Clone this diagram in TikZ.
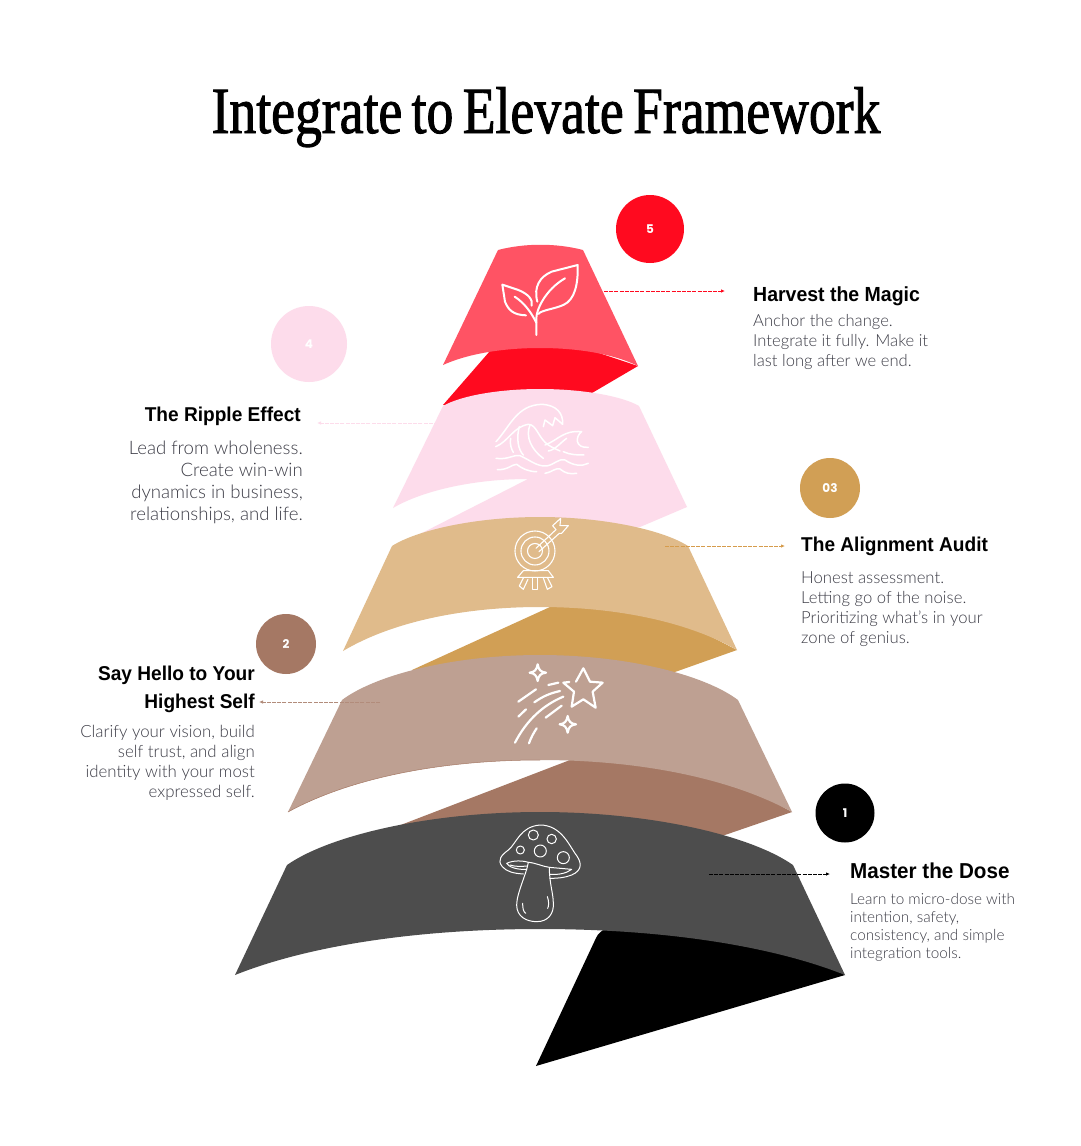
\documentclass[tikz,border=0pt]{standalone}
\usepackage{fontspec}
\usetikzlibrary{arrows.meta}
\setmainfont{Lato Light}
\newfontfamily\titlefont[FakeStretch=0.813,FakeBold=1.4,WordSpace=0.7]{Liberation Serif}
\newfontfamily\headfont[FakeStretch=0.955]{Liberation Sans}
\newfontfamily\badgefont{Poppins}
\definecolor{inkgray}{HTML}{4D4D4D}
\definecolor{textgray}{HTML}{3C3C46}
\definecolor{redback}{HTML}{FF0A1F}
\definecolor{redfront}{HTML}{FF5364}
\definecolor{pinkband}{HTML}{FDDCEB}
\definecolor{tanback}{HTML}{D19F55}
\definecolor{tanfront}{HTML}{E0BB8B}
\definecolor{brownback}{HTML}{A57864}
\definecolor{brownfront}{HTML}{BEA092}
\tikzset{
  badge/.style={circle, inner sep=0pt, minimum size=#1, text=white, font=\badgefont\bfseries\fontsize{12}{14}\selectfont},
  headleft/.style={anchor=base west, inner sep=0pt, font=\headfont\bfseries\fontsize{20}{28}\selectfont},
  headright/.style={anchor=base east, inner sep=0pt, align=right, font=\headfont\bfseries\fontsize{20}{28}\selectfont},
  bodyleft/.style={anchor=north west, inner sep=0pt, align=left, text=textgray},
  bodyright/.style={anchor=north east, inner sep=0pt, align=right, text=textgray},
  leader/.style={line width=1pt, dash pattern=on 4pt off 1.2pt, -{Latex[length=4pt,width=3.5pt]}},
  icon/.style={draw=white, line cap=round, line join=round, line width=#1},
}
\begin{document}
\begin{tikzpicture}[x=1pt, y=-1pt]
  \useasboundingbox (0,0) rectangle (1080,1146);
  \fill[white] (0,0) rectangle (1080,1146);

  \node[inner sep=0pt, anchor=base, font=\titlefont\fontsize{66}{70}\selectfont] (title) at (546,133) {Integrate to Elevate Framework};

  % bands, top first
  \fill[redback] (443,405) -- (490,351) -- (560,340) -- (638,366) -- (592,393) -- cycle;
  \fill[redfront] (498,250) .. controls (525,243) and (556,243) .. (583,250) -- (638,366)
    .. controls (614,354) and (578,348) .. (540,348) .. controls (502,348) and (467,354) .. (443,365) -- cycle;

  \fill[pinkband] (443,406) .. controls (460,396) and (498,389) .. (540,389) .. controls (582,389) and (622,396) .. (639,406)
    -- (687,507) -- (640,527) -- (418,535) -- (528,479) .. controls (470,479) and (420,492) .. (393,508) -- cycle;

  \fill[tanback] (412,670) -- (550,607) -- (640,600) -- (737,650) -- (675,672) -- cycle;
  \fill[tanfront] (392,546) .. controls (417,530) and (476,517) .. (540,517) .. controls (604,517) and (663,530) .. (688,546)
    -- (737,650) .. controls (688.5,622) and (617,607) .. (540,607) .. controls (463,607) and (391.5,622) .. (343,651) -- cycle;

  \fill[brownback] (398,826) -- (570,760) -- (680,750) -- (792,812) -- (722,836) -- cycle;
  \fill[brownfront] (342,700) .. controls (376,674.5) and (454,655) .. (540,655) .. controls (626,655) and (704,674.5) .. (738,700)
    -- (792,812) .. controls (730,778) and (639,760) .. (540,760) .. controls (441,760) and (350,778) .. (288,812) -- cycle;
  \draw[brownback, line width=0.5pt] (288,812) .. controls (350,778) and (441,760) .. (540,760);

  \fill[black] (536,1066) -- (596,938) .. controls (598,933) and (602,931) .. (610,925) -- (760,925) -- (845,975) -- cycle;
  \fill[inkgray] (287,865) .. controls (330,835) and (430,812) .. (540,812) .. controls (650,812) and (750,835) .. (793,865)
    -- (845,975) .. controls (770,945) and (660,929) .. (540,929) .. controls (420,929) and (310,945) .. (235,975) -- cycle;

  % leaders
  \coordinate (magicfrom) at (604,291);
  \coordinate (magicto) at (725,291);
  \coordinate (ripplefrom) at (438,423);
  \coordinate (rippleto) at (317,423);
  \coordinate (auditfrom) at (665,546);
  \coordinate (auditto) at (785,546);
  \coordinate (hellofrom) at (380,702);
  \coordinate (helloto) at (259,702);
  \coordinate (dosefrom) at (709,874);
  \coordinate (doseto) at (830,874);
  \draw[leader, color=redback] (magicfrom) -- (magicto);
  \draw[leader, color=pinkband] (ripplefrom) -- (rippleto);
  \draw[leader, color=tanback!90!orange] (auditfrom) -- (auditto);
  \draw[leader, color=brownback!85!white] (hellofrom) -- (helloto);
  \draw[leader, color=black] (dosefrom) -- (doseto);

  % badges
  \node[badge=68pt, fill=redback] (five) at (650,229) {5};
  \node[badge=76pt, fill=pinkband] (four) at (309,344) {4};
  \node[badge=60pt, fill=tanback] (three) at (830,488) {03};
  \node[badge=60pt, fill=brownback] (two) at (286,644) {2};
  \node[badge=59pt, fill=black] (one) at (845,813) {1};

  % texts
  \node[headleft, font=\headfont\bfseries\fontsize{20.4}{28}\selectfont] (magichead) at (753,301) {Harvest the Magic};
  \node[bodyleft, font=\fontsize{16.6}{20}\selectfont] (magicbody) at (753,314) {Anchor the change.\\Integrate it fully. Make it\\last long after we end.};

  \node[headright] (ripplehead) at (301,421) {The Ripple Effect};
  \node[bodyright, font=\fontsize{18.6}{22}\selectfont] (ripplebody) at (303,441) {Lead from wholeness.\\Create win-win\\dynamics in business,\\relationships, and life.};

  \node[headleft] (audithead) at (801,551) {The Alignment Audit};
  \node[bodyleft, font=\fontsize{16.7}{20}\selectfont] (auditbody) at (801,571) {Honest assessment.\\Letting go of the noise.\\Prioritizing what’s in your\\zone of genius.};

  \node[headright] (hellohead) at (255,708) {Say Hello to Your\\Highest Self};
  \node[bodyright, font=\fontsize{16.85}{20}\selectfont] (hellobody) at (255,725) {Clarify your vision, build\\self trust, and align\\identity with your most\\expressed self.};

  \node[headleft, font=\headfont\bfseries\fontsize{21.6}{28}\selectfont] (dosehead) at (850,878) {Master the Dose};
  \node[bodyleft, font=\fontsize{15.3}{18}\selectfont] (dosebody) at (850,893) {Learn to micro-dose with\\intention, safety,\\consistency, and simple\\integration tools.};

  % plant
  \begin{scope}[shift={(430,190)}, x=0.3333pt, y=-0.3333pt, icon=2pt]
    \draw (319,435) -- (319,385) .. controls (319,360) and (345,300) .. (405,265);
    \draw (322,335) .. controls (310,290) and (330,260) .. (365,245) -- (443,225)
      .. controls (445,280) and (435,330) .. (400,345) .. controls (370,358) and (335,360) .. (325,372);
    \draw (288,376) .. controls (250,375) and (235,360) .. (225,335) -- (217,284) -- (265,300)
      .. controls (295,312) and (310,330) .. (305,347);
    \draw (254,320) .. controls (285,340) and (305,370) .. (319,398);
  \end{scope}

  % wave
  \begin{scope}[shift={(480,395)}, x=0.3333pt, y=-0.3333pt, icon=1.5pt]
    \draw (48,140) .. controls (90,95) and (110,30) .. (185,28) .. controls (230,30) and (250,55) .. (248,88)
      -- (225,68) -- (218,92) -- (195,75) -- (190,95);
    \draw (47,155) .. controls (85,140) and (100,95) .. (145,88) .. controls (170,88) and (175,130) .. (205,150)
      .. controls (220,160) and (235,165) .. (240,168);
    \draw (92,130) .. controls (88,145) and (95,165) .. (100,172);
    \draw (118,95) .. controls (108,130) and (115,165) .. (130,180);
    \draw (150,90) .. controls (135,125) and (155,165) .. (190,190);
    \draw (195,150) .. controls (235,135) and (250,105) .. (305,110) .. controls (285,125) and (285,160) .. (325,157);
    \draw (205,168) .. controls (225,165) and (245,140) .. (260,130);
    \draw (250,170) .. controls (270,180) and (295,180) .. (312,180);
    \draw (48,190) .. controls (85,195) and (100,178) .. (120,182) .. controls (150,195) and (170,215) .. (200,213)
      .. controls (225,208) and (235,190) .. (255,195) .. controls (280,212) and (305,215) .. (325,205);
    \draw (52,224) .. controls (85,225) and (95,208) .. (110,208) .. controls (125,220) and (145,230) .. (170,230);
    \draw (195,235) .. controls (220,230) and (225,218) .. (240,222) .. controls (255,235) and (270,238) .. (290,235);
  \end{scope}

  % target
  \begin{scope}[shift={(380,380)}, x=0.3333pt, y=-0.3333pt, icon=1.1pt]
    \draw (465,513) circle (20pt);
    \draw (465,513) circle (14pt);
    \draw (465,513) circle (7.5pt);
    \draw (468,505) -- (528,449);
    \draw (477,515) -- (538,460);
    \draw (528,449) -- (518,437) -- (542,415) -- (540,437) -- (565,437) -- (545,460) -- (538,460);
    \draw (430,572) -- (505,572) -- (520,592) -- (413,592) -- cycle;
    \draw (458,594) -- (458,628) -- (473,628) -- (473,594);
    \draw (430,594) -- (418,618) -- (430,628) -- (444,598);
    \draw (490,594) -- (502,628) -- (516,620) -- (503,594);
  \end{scope}

  % shooting star
  \begin{scope}[shift={(450,640)}, x=0.3333pt, y=-0.3333pt, icon=2.2pt]
    \draw (378,125) -- (400,85) -- (420,125) -- (458,128) -- (428,155) -- (437,203) -- (400,178) -- (365,200) -- (372,155) -- (340,128) -- (358,126);
    \draw (263,73) .. controls (266,90) and (272,96) .. (288,98) .. controls (272,100) and (266,106) .. (263,123)
      .. controls (260,106) and (254,100) .. (239,98) .. controls (254,96) and (260,90) .. (263,73) -- cycle;
    \draw (353,228) .. controls (356,245) and (362,251) .. (378,253) .. controls (362,255) and (356,261) .. (353,278)
      .. controls (350,261) and (344,255) .. (329,253) .. controls (344,251) and (350,245) .. (353,228) -- cycle;
    \draw (205,185) -- (258,148);
    \draw (253,187) .. controls (280,168) and (300,160) .. (330,153);
    \draw (295,135) -- (325,128);
    \draw (205,230) -- (228,208);
    \draw (195,308) .. controls (230,240) and (280,195) .. (340,170);
    \draw (287,233) -- (335,197);
    \draw (237,310) .. controls (243,293) and (250,280) .. (260,265);
  \end{scope}

  % mushroom
  \begin{scope}[shift={(460,810)}, x=0.3333pt, y=-0.3333pt, icon=1pt]
    \draw (205,157) .. controls (200,190) and (170,250) .. (170,285) .. controls (170,320) and (200,335) .. (230,335)
      .. controls (265,335) and (282,310) .. (280,280) .. controls (280,250) and (268,220) .. (268,172)
      .. controls (250,170) and (225,158) .. (205,157) -- cycle;
    \draw (190,192) .. controls (160,190) and (140,185) .. (127,170) .. controls (110,150) and (125,135) .. (145,120)
      .. controls (170,100) and (180,50) .. (240,45) .. controls (300,45) and (325,100) .. (345,130)
      .. controls (365,155) and (370,180) .. (335,195) .. controls (315,203) and (295,205) .. (270,205);
    \draw (200,178) .. controls (170,180) and (145,170) .. (140,160) .. controls (160,150) and (190,152) .. (205,157);
    \draw (150,165) .. controls (165,170) and (185,170) .. (200,168);
    \draw (268,172) -- (335,178) .. controls (320,190) and (295,195) .. (270,193);
    \draw (220,75) circle (5pt);
    \draw (275,87) circle (4.7pt);
    \draw (181,120) circle (4pt);
    \draw (241,123) circle (6pt);
    \draw (310,143) circle (6pt);
    \draw (188,280) .. controls (188,295) and (190,305) .. (197,310);
    \draw (262,260) .. controls (268,275) and (266,290) .. (263,295);
  \end{scope}
\end{tikzpicture}
\end{document}
